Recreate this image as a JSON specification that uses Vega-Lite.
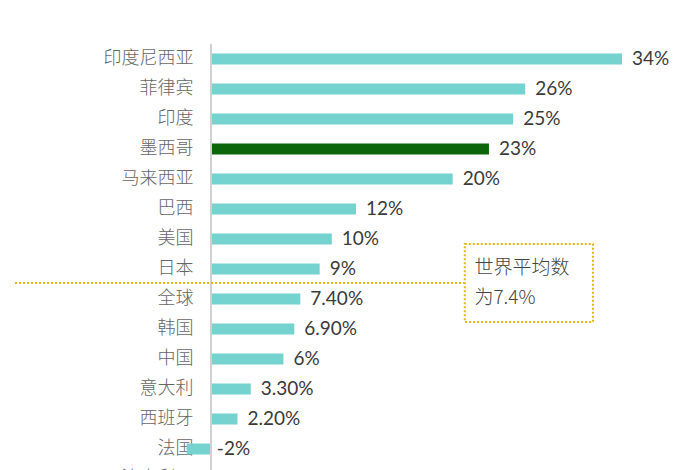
{
  "$schema": "https://vega.github.io/schema/vega-lite/v6.json",
  "width": 665,
  "height": 450,
  "autosize": {"type": "none"},
  "padding": {"left": 15, "top": 44, "right": 20, "bottom": 0},
  "config": {"view": {"stroke": null}, "font": "Lato"},
  "data": {
    "values": [
      {"country": "印度尼西亚", "v": 34, "label": "34%", "hl": "no"},
      {"country": "菲律宾", "v": 26, "label": "26%", "hl": "no"},
      {"country": "印度", "v": 25, "label": "25%", "hl": "no"},
      {"country": "墨西哥", "v": 23, "label": "23%", "hl": "yes"},
      {"country": "马来西亚", "v": 20, "label": "20%", "hl": "no"},
      {"country": "巴西", "v": 12, "label": "12%", "hl": "no"},
      {"country": "美国", "v": 10, "label": "10%", "hl": "no"},
      {"country": "日本", "v": 9, "label": "9%", "hl": "no"},
      {"country": "全球", "v": 7.4, "label": "7.40%", "hl": "no"},
      {"country": "韩国", "v": 6.9, "label": "6.90%", "hl": "no"},
      {"country": "中国", "v": 6, "label": "6%", "hl": "no"},
      {"country": "意大利", "v": 3.3, "label": "3.30%", "hl": "no"},
      {"country": "西班牙", "v": 2.2, "label": "2.20%", "hl": "no"},
      {"country": "法国", "v": -2, "label": "-2%", "hl": "no"},
      {"country": "澳大利亚", "v": -3, "label": "-3.00%", "hl": "no"}
    ]
  },
  "layer": [
    {
      "mark": {"type": "bar", "size": 11},
      "encoding": {
        "y": {
          "field": "country",
          "type": "nominal",
          "sort": null,
          "scale": {"paddingInner": 0, "paddingOuter": 0},
          "axis": {
            "title": null,
            "domain": false,
            "ticks": false,
            "labelPadding": 0,
            "offset": -178,
            "labelFontSize": 18,
            "labelFontWeight": 300,
            "labelColor": "#666666",
            "labelFont": "Noto Sans CJK SC"
          }
        },
        "x": {
          "field": "v",
          "type": "quantitative",
          "scale": {"domain": [-16.2, 38.8], "nice": false, "zero": false},
          "axis": null
        },
        "color": {
          "field": "hl",
          "type": "nominal",
          "scale": {"domain": ["no", "yes"], "range": ["#74D3CE", "#0B650B"]},
          "legend": null
        }
      }
    },
    {
      "mark": {"type": "rule", "color": "#d0d0d0", "strokeWidth": 1},
      "encoding": {
        "x": {"datum": 0, "type": "quantitative"}
      }
    },
    {
      "transform": [{"filter": "datum.v >= 0"}],
      "mark": {"type": "text", "align": "left", "baseline": "middle", "dx": 10, "fontSize": 19, "color": "#3a3a3a"},
      "encoding": {
        "y": {"field": "country", "type": "nominal", "sort": null},
        "x": {"field": "v", "type": "quantitative"},
        "text": {"field": "label"}
      }
    },
    {
      "transform": [{"filter": "datum.v < 0"}],
      "mark": {"type": "text", "align": "left", "baseline": "middle", "dx": 6, "fontSize": 19, "color": "#3a3a3a"},
      "encoding": {
        "y": {"field": "country", "type": "nominal", "sort": null},
        "x": {"datum": 0, "type": "quantitative"},
        "text": {"field": "label"}
      }
    },
    {
      "transform": [{"filter": "datum.country == '全球'"}],
      "mark": {"type": "rule", "color": "#E5B416", "strokeWidth": 2, "strokeDash": [2, 2], "yOffset": -16},
      "encoding": {
        "y": {"field": "country", "type": "nominal", "sort": null},
        "x": {"datum": -16.2, "type": "quantitative"},
        "x2": {"datum": 21}
      }
    },
    {
      "transform": [{"filter": "datum.country == '全球'"}],
      "mark": {"type": "rect", "fill": "white", "stroke": "#E5B416", "strokeWidth": 2, "strokeDash": [2, 2], "height": 78, "yOffset": -16},
      "encoding": {
        "y": {"field": "country", "type": "nominal", "sort": null},
        "x": {"datum": 21, "type": "quantitative"},
        "x2": {"datum": 31.6}
      }
    },
    {
      "transform": [{"filter": "datum.country == '日本'"}],
      "mark": {"type": "text", "align": "left", "baseline": "middle", "fontSize": 19, "fontWeight": 300, "color": "#444444", "font": "Noto Sans CJK SC", "text": "世界平均数", "yOffset": -1},
      "encoding": {
        "y": {"field": "country", "type": "nominal", "sort": null},
        "x": {"datum": 21.8, "type": "quantitative"}
      }
    },
    {
      "transform": [{"filter": "datum.country == '全球'"}],
      "mark": {"type": "text", "align": "left", "baseline": "middle", "fontSize": 19, "fontWeight": 300, "color": "#444444", "font": "Noto Sans CJK SC", "text": "为7.4%", "yOffset": -1},
      "encoding": {
        "y": {"field": "country", "type": "nominal", "sort": null},
        "x": {"datum": 21.8, "type": "quantitative"}
      }
    }
  ]
}
